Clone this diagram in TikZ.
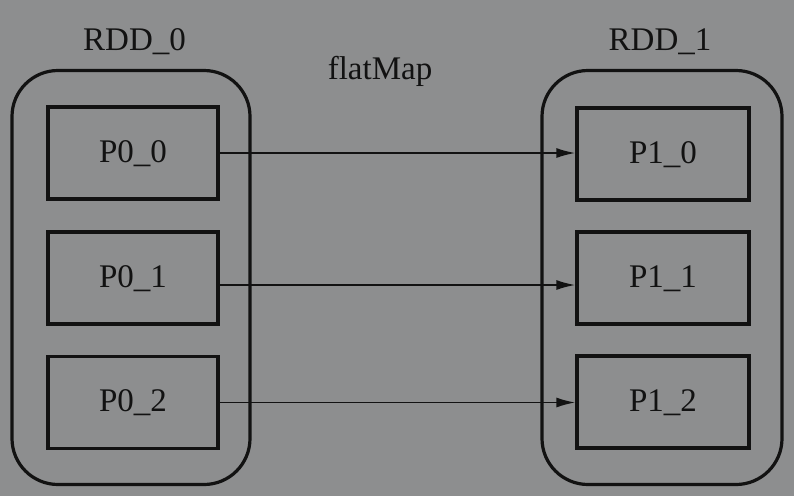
\documentclass[tikz,border=0pt]{standalone}
\usepackage{fontspec}
\setmainfont{Liberation Serif}
\usetikzlibrary{arrows.meta}
\definecolor{bg}{RGB}{141,142,143}
\definecolor{ink}{RGB}{18,18,18}
\tikzset{
  outerbox/.style={draw=ink, line width=3.2pt, rounded corners=46pt, minimum width=#1, minimum height=414pt, inner sep=0pt},
  partbox/.style={draw=ink, line width=3.2pt, minimum width=#1, minimum height=92pt, inner sep=0pt,
    font=\fontsize{33}{36}\selectfont, text=ink, text height=22pt, text depth=4pt},
  title/.style={font=\fontsize{33}{36}\selectfont, text=ink, anchor=base, inner sep=0pt},
  flow/.style={draw=ink, line width=1.9pt, -{Latex[length=19pt,width=10pt]}}
}
\begin{document}
\begin{tikzpicture}[x=1pt,y=-1pt]
  \fill[bg] (0,0) rectangle (794,496);
  \useasboundingbox (0,0) rectangle (794,496);
  \node[outerbox=238pt] (rdd0) at (131,277.5) {};
  \node[outerbox=240pt] (rdd1) at (662,277.5) {};
  \node[title] (t0) at (134.5,50) {RDD\_0};
  \node[title] (t1) at (660,50) {RDD\_1};
  \node[title] (fm) at (380,79) {flatMap};
  \node[partbox=170pt] (p00) at (133,153) {P0\_0};
  \node[partbox=170pt] (p01) at (133,278) {P0\_1};
  \node[partbox=170pt] (p02) at (133,402.5) {P0\_2};
  \node[partbox=172pt] (p10) at (663,154) {P1\_0};
  \node[partbox=172pt] (p11) at (663,278) {P1\_1};
  \node[partbox=172pt] (p12) at (663,402) {P1\_2};
  \draw[flow] (p00.east) -- (p00.east -| p10.west);
  \draw[flow] ([yshift=-7pt]p01.east) -- ([yshift=-7pt]p01.east -| p11.west);
  \draw[flow] (p02.east) -- (p02.east -| p12.west);
\end{tikzpicture}
\end{document}
